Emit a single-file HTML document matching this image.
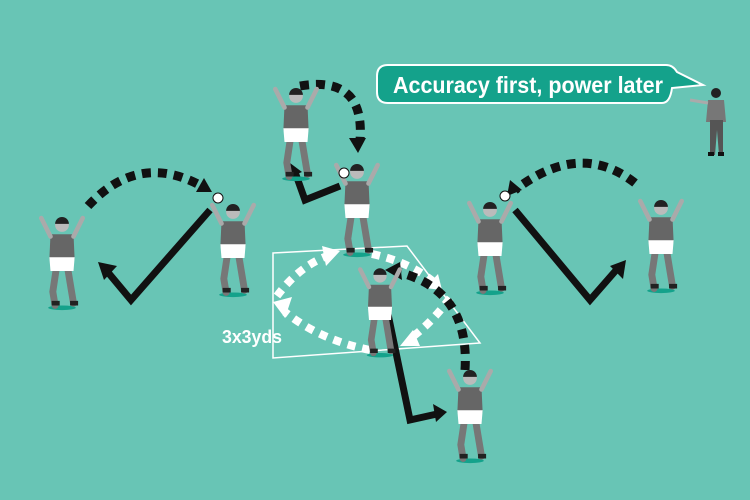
<!DOCTYPE html>
<html><head><style>
body{margin:0;background:#68c5b5}
svg{display:block}
</style></head><body>
<svg width="750" height="500" viewBox="0 0 750 500" xmlns="http://www.w3.org/2000/svg">
<rect width="750" height="500" fill="#68c5b5"/>
<defs>
<g id="pl">
 <ellipse cx="0" cy="72" rx="12" ry="2" fill="#14a28b"/>
 <path d="M-5,38 L-8,58 L-6,70 M5,38 L8,56 L10,68" stroke="#777" stroke-width="6" fill="none" stroke-linecap="round"/>
 <path d="M-9,68 h7 M7,68 h7" stroke="#222" stroke-width="4"/>
 <path d="M-10,8 L10,8 L11,30 L-11,30Z" fill="#666"/>
 <path d="M-11,28 L11,28 L10,40 L-10,40Z" fill="#fff"/>
 <path d="M-10,10 L-18,-6 M10,10 L18,-6" stroke="#aaa" stroke-width="4" stroke-linecap="round"/>
 <circle cx="0" cy="0" r="6" fill="#bbb"/>
 <path d="M-6,-1 a6,6 0 0 1 12,0Z" fill="#222"/>
</g>
</defs>

<!-- square -->
<polygon points="273,253 407,246 480,343 273,358" fill="none" stroke="#fff" stroke-width="1.5"/>
<text x="222" y="343" font-family="Liberation Sans,sans-serif" font-weight="bold" font-size="18" fill="#fff" textLength="60" lengthAdjust="spacingAndGlyphs">3x3yds</text>

<!-- white dashed arrows -->
<g stroke="#fff" stroke-width="8" fill="none" stroke-dasharray="8,7">
 <path d="M370,350 Q320,340 285,312"/>
 <path d="M277,296 Q300,265 330,255"/>
 <path d="M372,254 Q410,262 435,283"/>
 <path d="M450,298 Q430,325 408,340"/>
</g>
<g fill="#fff">
 <polygon points="273,302 292,297 285,318"/>
 <polygon points="340,251 322,246 326,266"/>
 <polygon points="442,290 425,288 438,274"/>
 <polygon points="400,346 413,330 420,346"/>
</g>

<!-- black dashed arcs -->
<g stroke="#111" stroke-width="9" fill="none" stroke-dasharray="9,7">
 <path d="M88,206 Q140,150 205,188"/>
 <path d="M300,86 Q365,75 360,140"/>
 <path d="M635,183 Q580,140 515,190"/>
 <path d="M465,370 Q470,290 398,272"/>
</g>
<g fill="#111">
 <polygon points="212,192 196,192 204,178"/>
 <polygon points="358,153 349,138 366,138"/>
 <polygon points="507,196 510,180 522,190"/>
 <polygon points="385,270 400,262 402,280"/>
</g>

<!-- black solid lines -->
<g stroke="#111" stroke-width="7" fill="none">
 <path d="M106,270 L131,300 L210,210"/>
 <path d="M515,210 L590,300 L618,268"/>
 <path d="M295,172 L305,200 L340,186"/>
 <path d="M383,290 L410,420 L437,414"/>
</g>
<g fill="#111">
 <polygon points="98,262 117,266 104,280"/>
 <polygon points="626,260 623,279 610,266"/>
 <polygon points="290,163 302,172 288,178"/>
 <polygon points="447,412 433,404 436,422"/>
</g>

<!-- players -->
<use href="#pl" transform="translate(62,225) scale(1.15)"/>
<use href="#pl" transform="translate(233,212) scale(1.15)"/>
<use href="#pl" transform="translate(296,96) scale(1.15)"/>
<use href="#pl" transform="translate(357,172) scale(1.15)"/>
<use href="#pl" transform="translate(380,276) scale(1.1)"/>
<use href="#pl" transform="translate(490,210) scale(1.15)"/>
<use href="#pl" transform="translate(661,208) scale(1.15)"/>
<use href="#pl" transform="translate(470,378) scale(1.15)"/>

<!-- balls -->
<circle cx="218" cy="198" r="5" fill="#fff" stroke="#111"/>
<circle cx="344" cy="173" r="5" fill="#fff" stroke="#111"/>
<circle cx="505" cy="196" r="5" fill="#fff" stroke="#111"/>

<!-- coach -->
<g>
 <circle cx="716" cy="93" r="5" fill="#222"/>
 <path d="M708,100 h16 l2,22 h-20z" fill="#777"/>
 <path d="M710,120 h13 v35 h-4 l-2,-25 l-2,25 h-5z" fill="#555"/>
 <path d="M708,103 L690,100" stroke="#aaa" stroke-width="3"/>
 <path d="M708,154 h6 M718,154 h6" stroke="#111" stroke-width="4"/>
</g>

<!-- bubble -->
<path d="M388,65 H666 Q673,65 677,72 L703,85 L672,88 Q670,103 662,103 H388 Q377,103 377,92 V76 Q377,65 388,65Z" fill="#14a28b" stroke="#fff" stroke-width="2"/>
<text x="393" y="93" font-family="Liberation Sans,sans-serif" font-weight="bold" font-size="23" fill="#fff" textLength="270" lengthAdjust="spacingAndGlyphs">Accuracy first, power later</text>
</svg>
</body></html>
